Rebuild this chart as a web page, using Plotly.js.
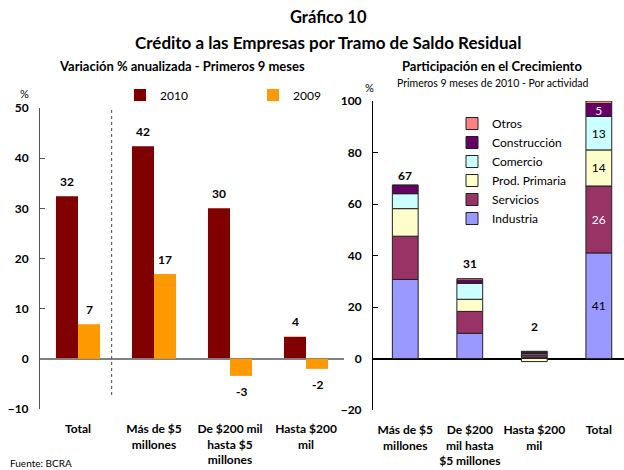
<!DOCTYPE html>
<html>
<head>
<meta charset="utf-8">
<script src="https://cdn.plot.ly/plotly-3.0.1.min.js"></script>
<style>
  body { margin: 0; background: #fff; }
  #plotArea { width: 624px; height: 470px; }
</style>
</head>
<body>
<div id="plotArea"></div>
<script>
// left chart: variacion % anualizada
var leftCats = ["Total", "Más de $5<br>millones", "De $200 mil<br>hasta $5<br>millones", "Hasta $200<br>mil"];
var var2010 = [32.4, 42.4, 30.0, 4.4];
var var2009 = [6.9, 16.9, -3.4, -2.0];

// right chart: participacion en el crecimiento
var rightCats = ["Más de $5<br>millones", "De $200<br>mil hasta<br>$5 millones", "Hasta $200<br>mil", "Total"];
var industria = [30.7, 9.8, 0.5, 41];
var servicios = [16.8, 8.5, 0.9, 26];
var prodPrimaria = [10.7, 4.7, -1.2, 14];
var comercio = [5.8, 6.2, 0.5, 13];
var construccion = [3.2, 1.2, 0.6, 5];
var otros = [0.2, 0.6, 0.3, 1];

var font = "Lato, 'DejaVu Sans', sans-serif";

var trace2010 = {
    x: leftCats, y: var2010, type: "bar", name: "2010",
    xaxis: "x", yaxis: "y", width: 0.29, offset: -0.29,
    marker: {color: "#800000"}, legend: "legend"
};
var trace2009 = {
    x: leftCats, y: var2009, type: "bar", name: "2009",
    xaxis: "x3", yaxis: "y", width: 0.29, offset: 0,
    marker: {color: "#FF9900"}, legend: "legend"
};

function totalLabel(vals) {
    return vals.map(function (v, i) { return i === 3 ? String(v) : ""; });
}

function stackTrace(name, vals, color, txtColor, showText) {
    var t = {
        x: rightCats, y: vals, type: "bar", name: name,
        xaxis: "x2", yaxis: "y2", width: 0.4,
        marker: {color: color, line: {color: "#222", width: 1}},
        legend: "legend2"
    };
    if (showText) {
        t.text = totalLabel(vals);
        t.textposition = "inside";
        t.insidetextanchor = "middle";
        t.textangle = 0;
        t.constraintext = "none";
        t.textfont = {family: font, size: 12, color: txtColor};
    } else {
        t.textposition = "none";
    }
    return t;
}

var data = [
    trace2010, trace2009,
    stackTrace("Industria", industria, "#9999FF", "#000", true),
    stackTrace("Servicios", servicios, "#993366", "#fff", true),
    stackTrace("Prod. Primaria", prodPrimaria, "#FFFFCC", "#000", true),
    stackTrace("Comercio", comercio, "#CCFFFF", "#000", true),
    stackTrace("Construcción", construccion, "#660066", "#fff", true),
    stackTrace("Otros", otros, "#FF8080", "#000", false)
];

// value labels over the left bars
var annotations = [];
var2010.forEach(function (v, i) {
    annotations.push({x: i, y: v, xref: "x", yref: "y", text: String(Math.round(v)),
        showarrow: false, xshift: -11, yshift: v >= 0 ? 15 : -16,
        font: {family: font, size: 12, weight: "bold", color: "#000"}});
});
var2009.forEach(function (v, i) {
    annotations.push({x: i, y: v, xref: "x", yref: "y", text: String(Math.round(v)),
        showarrow: false, xshift: 11, yshift: v >= 0 ? 15 : -16,
        font: {family: font, size: 12, weight: "bold", color: "#000"}});
});

// totals over the first three stacked bars
var series = [industria, servicios, prodPrimaria, comercio, construccion, otros];
var totShift = [9, 15, 25];
for (var k = 0; k < 3; k++) {
    var net = 0, barTop = 0;
    series.forEach(function (s) { net += s[k]; if (s[k] > 0) barTop += s[k]; });
    annotations.push({x: k, y: barTop, xref: "x2", yref: "y2", text: String(Math.round(net)),
        showarrow: false, yshift: totShift[k],
        font: {family: font, size: 12, weight: "bold", color: "#000"}});
}

function paperText(txt, x, y, size, bold, xanchor) {
    return {text: txt, x: x / 624, y: 1 - y / 470, xref: "paper", yref: "paper",
        showarrow: false, xanchor: xanchor || "center", yanchor: "middle",
        font: {family: font, size: size, weight: bold ? "bold" : "normal", color: "#000"}};
}

annotations.push(paperText("Gráfico 10", 328, 17, 16.5, true));
annotations.push(paperText("Crédito a las Empresas por Tramo de Saldo Residual", 328, 43, 17, true));
annotations.push(paperText("Variación % anualizada - Primeros 9 meses", 182, 66, 13, true));
annotations.push(paperText("Participación en el Crecimiento", 492, 66, 13, true));
annotations.push(paperText("Primeros 9 meses de 2010 - Por actividad", 493, 83, 10.5, false));
annotations.push(paperText("%", 24, 94, 11, false));
annotations.push(paperText("%", 369, 87, 11, false));
annotations.push(paperText("Fuente: BCRA", 8, 463, 10, false, "left"));

var layout = {
    width: 624, height: 470,
    margin: {l: 0, r: 0, t: 0, b: 0},
    paper_bgcolor: "#fff", plot_bgcolor: "rgba(0,0,0,0)",
    font: {family: font, size: 12, color: "#000"},
    barmode: "relative",
    showlegend: true,
    xaxis: {
        domain: [40 / 624, 344 / 624], anchor: "y", type: "category",
        range: [-0.5, 3.5],
        showline: false, showgrid: false, zeroline: false, ticks: "",
        tickfont: {family: font, size: 12, weight: "bold"}, ticklabelstandoff: 11
    },
    xaxis3: {
        domain: [40 / 624, 344 / 624], anchor: "y", type: "category",
        range: [-0.5, 3.5], showticklabels: false, showline: false,
        showgrid: false, zeroline: false, ticks: ""
    },
    yaxis: {
        domain: [1 - 409 / 470, 1 - 108 / 470], anchor: "x",
        range: [-10, 50], dtick: 10, ticks: "inside", ticklen: 5, tickcolor: "#555",
        showline: true, linecolor: "#555", linewidth: 1, showgrid: false,
        zeroline: true, zerolinecolor: "#808080", zerolinewidth: 2,
        tickfont: {family: font, size: 12, weight: "bold"}, ticklabelstandoff: 8
    },
    xaxis2: {
        domain: [373 / 624, 1], anchor: "y2", type: "category",
        range: [-0.5, 3.39],
        showline: false, showgrid: false, zeroline: false, ticks: "",
        tickfont: {family: font, size: 12, weight: "bold"}, ticklabelstandoff: 11
    },
    yaxis2: {
        domain: [1 - 410 / 470, 1 - 101 / 470], anchor: "x2",
        range: [-20, 100], dtick: 20, ticks: "inside", ticklen: 5, tickcolor: "#000",
        showline: true, linecolor: "#000", linewidth: 1, showgrid: false,
        zeroline: true, zerolinecolor: "#000", zerolinewidth: 1.5,
        tickfont: {family: font, size: 12, weight: "bold"}, ticklabelstandoff: 8
    },
    legend: {
        orientation: "h", x: 120 / 624, y: 1 - 95 / 470, xanchor: "left", yanchor: "middle",
        entrywidth: 88, entrywidthmode: "pixels", bgcolor: "rgba(0,0,0,0)",
        font: {family: font, size: 12}
    },
    legend2: {
        orientation: "v", x: 452 / 624, y: 1 - 109 / 470, xanchor: "left", yanchor: "top",
        traceorder: "reversed", tracegroupgap: 0, bgcolor: "rgba(0,0,0,0)",
        font: {family: font, size: 12}
    },
    shapes: [{
        type: "line", xref: "x", yref: "y", x0: 0.443, x1: 0.443, y0: -7.2, y1: 50,
        line: {color: "#444", width: 1, dash: "dot"}
    }],
    annotations: annotations
};

Plotly.newPlot("plotArea", data, layout, {displayModeBar: false});
</script>
</body>
</html>
